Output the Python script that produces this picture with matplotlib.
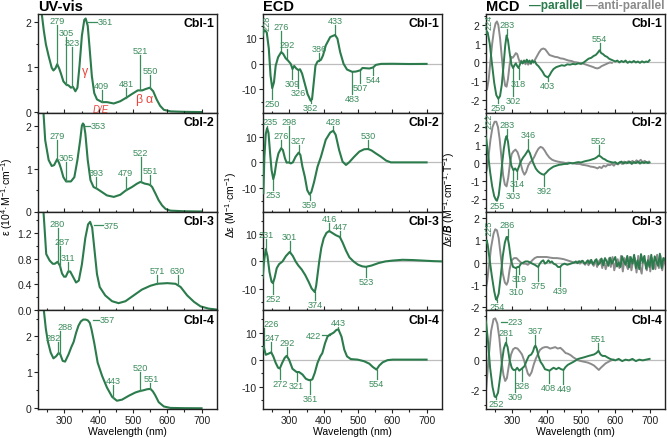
import numpy as np
import matplotlib
matplotlib.use('Agg')
import matplotlib.pyplot as plt
from matplotlib.ticker import MultipleLocator

plt.rcParams['font.family'] = ['Liberation Sans', 'DejaVu Sans']
plt.rcParams['axes.unicode_minus'] = False
plt.rcParams['mathtext.fontset'] = 'custom'
plt.rcParams['mathtext.rm'] = 'Liberation Sans'
plt.rcParams['mathtext.it'] = 'Liberation Sans:italic'
plt.rcParams['mathtext.bf'] = 'Liberation Sans:bold'
plt.rcParams['mathtext.bfit'] = 'Liberation Sans:italic:bold'

GREEN = '#2b7b4c'
LABEL = '#3b8c5c'
GRAY = '#8b8b8b'
RED = '#e8453c'

# ---------------- UV-vis (10^4 M-1 cm-1) ----------------
uv1_wl = [230, 234, 240, 246, 254, 263, 268, 274, 279, 285, 290, 297, 305, 312, 319, 325, 332, 338, 344,
          351, 358, 362, 368, 373, 380, 387, 395, 410, 424, 444, 463, 483, 497, 514, 527, 537, 549, 559,
          569, 579, 590, 610, 650, 700]
uv1_eps = [2.6, 2.17, 1.8, 1.5, 1.24, 0.98, 0.92, 0.97, 1.06, 0.96, 0.85, 0.68, 0.61, 0.59, 0.54, 0.56, 0.46,
           0.54, 1.02, 1.69, 2.04, 2.07, 1.91, 1.46, 0.80, 0.42, 0.28, 0.22, 0.22, 0.19, 0.24, 0.33, 0.40,
           0.48, 0.48, 0.51, 0.54, 0.46, 0.28, 0.14, 0.05, 0.015, 0.005, 0.0]

uv2_wl = [235, 239, 244, 254, 263, 270, 279, 285, 290, 297, 305, 312, 319, 329, 338, 346, 351, 354, 357,
          361, 368, 376, 385, 395, 410, 424, 444, 463, 479, 497, 512, 522, 534, 546, 551, 556, 566, 575,
          585, 595, 609, 650, 700]
uv2_eps = [2.9, 2.3, 1.66, 1.2, 1.06, 1.08, 1.22, 1.12, 1.0, 0.80, 0.70, 0.70, 0.70, 0.80, 1.20, 1.66, 2.0,
           2.05, 2.02, 1.82, 1.2, 0.73, 0.57, 0.53, 0.45, 0.375, 0.34, 0.39, 0.49, 0.57, 0.65, 0.69, 0.65,
           0.63, 0.61, 0.57, 0.41, 0.26, 0.14, 0.06, 0.02, 0.005, 0.0]

uv3_wl = [236, 239, 247, 257, 266, 272, 280, 287, 293, 299, 304, 311, 317, 325, 334, 342, 351, 361, 369,
          375, 381, 388, 395, 403, 419, 439, 458, 478, 502, 526, 551, 571, 600, 624, 639, 658, 678, 697,
          721, 745]
uv3_eps = [2.0, 1.53, 0.87, 0.77, 0.72, 0.72, 0.75, 0.69, 0.57, 0.52, 0.52, 0.60, 0.60, 0.52, 0.43, 0.46,
           0.71, 1.12, 1.33, 1.37, 1.28, 0.92, 0.56, 0.36, 0.23, 0.14, 0.11, 0.14, 0.23, 0.32, 0.38, 0.41,
           0.42, 0.41, 0.36, 0.23, 0.13, 0.06, 0.025, 0.01]

uv4_wl = [236, 240, 246, 252, 260, 268, 276, 283, 288, 295, 302, 312, 320, 327, 334, 341, 348, 355, 362,
          368, 374, 379, 387, 397, 410, 424, 439, 453, 468, 488, 507, 520, 530, 541, 551, 558, 565, 575,
          590, 609, 650, 700]
uv4_eps = [3.0, 2.73, 2.2, 1.85, 1.55, 1.39, 1.45, 1.54, 1.5, 1.32, 1.30, 1.5, 1.7, 1.85, 2.1, 2.3, 2.42,
           2.47, 2.47, 2.45, 2.38, 2.2, 1.82, 1.27, 0.9, 0.58, 0.32, 0.21, 0.24, 0.35, 0.44, 0.48, 0.5,
           0.53, 0.54, 0.47, 0.36, 0.17, 0.05, 0.01, 0.003, 0.0]

# ---------------- ECD (M-1 cm-1) ----------------
ecd1_wl = [222, 225, 228, 234, 240, 245, 250, 255, 260, 267, 276, 282, 289, 296, 304, 309, 314, 320, 326,
           331, 337, 345, 353, 362, 366, 370, 376, 382, 386, 392, 398, 406, 419, 433, 440, 448, 458, 468,
           483, 494, 507, 513, 523, 533, 544, 552, 567, 600, 650, 700]
ecd1_de = [11.0, 12.8, 13.2, 12.3, 5.9, -4.6, -9.5, -7.2, -0.7, 2.6, 4.6, 3.9, 2.2, 1.3, 0.0, -2.0, -0.8,
           -1.8, -2.4, -2.1, -3.8, -7.8, -11.8, -14.4, -13.8, -8.6, -0.7, 0.9, 1.2, 1.6, 3.3, 7.2, 10.5,
           11.3, 9.9, 4.6, 0.0, -2.2, -3.1, -3.0, -2.5, -1.6, -1.7, -1.8, -1.4, -0.4, 0.0, 0.05, -0.05, 0.0]

ecd2_wl = [224, 227, 231, 235, 239, 244, 248, 253, 257, 262, 268, 276, 281, 287, 292, 298, 304, 310, 318,
           327, 332, 338, 345, 352, 359, 364, 372, 382, 392, 406, 419, 428, 435, 445, 455, 465, 474, 489,
           504, 518, 530, 540, 552, 567, 582, 596, 650, 700]
ecd2_de = [-12.0, 2.0, 11.0, 13.3, 11.5, 3.0, -3.0, -6.5, -4.5, 0.0, 3.5, 5.5, 4.8, 1.6, -0.1, 0.0, -0.4,
           0.0, 2.2, 3.8, 2.9, -1.7, -5.6, -10.8, -12.5, -11.5, -7.6, -1.7, 2.2, 8.8, 11.6, 12.3, 10.7,
           4.8, 0.3, -1.0, 0.0, 2.2, 4.2, 5.1, 5.2, 4.6, 3.5, 2.2, 0.7, 0.0, 0.0, 0.0]

ecd3_wl = [222, 226, 231, 236, 242, 248, 252, 257, 263, 270, 280, 290, 301, 310, 318, 326, 336, 346, 356,
           365, 374, 378, 382, 387, 393, 400, 408, 416, 425, 435, 447, 455, 465, 475, 487, 500, 512, 523,
           540, 560, 580, 600, 630, 660, 690, 720, 745]
ecd3_de = [-6.0, 0.0, 4.5, 2.0, -4.0, -7.5, -8.0, -6.0, -2.5, -1.0, 0.0, 2.0, 3.5, 2.0, 0.0, -1.5, -3.0,
           -5.0, -7.5, -10.0, -11.3, -9.0, -5.0, 0.0, 5.0, 8.5, 10.5, 11.2, 10.5, 9.7, 9.0, 7.0, 4.0, 1.5,
           0.0, -1.2, -1.8, -2.0, -1.5, -0.6, 0.0, 0.3, 0.6, 0.5, 0.3, 0.1, 0.0]

ecd4_wl = [222, 226, 231, 239, 247, 253, 260, 267, 272, 279, 286, 292, 299, 309, 321, 328, 338, 348, 357,
           361, 367, 374, 382, 390, 396, 404, 411, 418, 422, 429, 437, 443, 452, 460, 468, 479, 499, 518,
           533, 543, 554, 562, 572, 586, 601, 650, 700]
ecd4_de = [4.9, 4.3, 1.8, 2.2, 2.7, 1.2, -1.2, -3.0, -3.3, -1.2, 0.6, 1.4, 0.0, -3.4, -4.6, -4.6, -5.5,
           -7.1, -7.6, -7.6, -7.3, -4.9, -1.2, 1.2, 2.4, 6.1, 8.5, 9.3, 9.5, 10.0, 11.0, 11.2, 8.5, 3.7,
           1.2, 0.2, 0.0, -0.6, -1.5, -2.7, -3.7, -2.2, -1.0, -0.2, 0.0, 0.0, 0.0]

# ---------------- MCD (M-1 cm-1 T-1), parallel / anti-parallel ----------------
mcd1_wl = [222, 224, 228, 234, 240, 247, 253, 259, 264, 269, 274, 279, 283, 287, 292, 297, 302, 306, 310,
           314, 318, 322, 326, 330, 334, 338, 342, 346, 350, 354, 358, 362, 366, 370, 376, 382, 388, 394,
           398, 403, 408, 414, 420, 428, 436, 444, 452, 460, 468, 476, 484, 492, 500, 508, 515, 522, 530,
           537, 543, 548, 554, 559, 564, 570, 576, 582, 588, 594, 600, 606, 612, 618, 624, 630, 636, 642,
           648, 654, 660, 666, 672, 678, 684, 690, 695, 700]
mcd1_par = [1.5, 1.7, 1.6, 1.0, 0.0, -1.1, -1.75, -1.95, -1.8, -1.2, -0.2, 0.9, 1.45, 1.2, 0.5, -0.1,
            -0.3, -0.15, -0.05, -0.2, -0.3, -0.1, 0.05, -0.05, 0.1, 0.0, 0.15, 0.0, 0.1, -0.05, 0.12, 0.0,
            0.05, -0.1, -0.2, -0.35, -0.5, -0.7, -0.75, -0.8, -0.7, -0.5, -0.35, -0.25, -0.2, -0.15, -0.18,
            -0.1, -0.12, -0.08, -0.1, -0.05, -0.08, 0.0, 0.1, 0.2, 0.25, 0.35, 0.4, 0.5, 0.65, 0.5, 0.45,
            0.35, 0.3, 0.2, 0.15, 0.1, 0.05, 0.1, 0.0, 0.08, 0.02, 0.1, -0.02, 0.05, 0.0, 0.08, 0.0, 0.05,
            -0.02, 0.06, 0.0, 0.05, 0.02, 0.12]
mcd1_awl = [222, 226, 231, 236, 241, 246, 251, 255, 259, 264, 269, 274, 279, 283, 287, 292, 297, 301, 305,
            310, 314, 318, 322, 326, 330, 334, 338, 342, 346, 350, 354, 358, 362, 366, 372, 378, 384, 390,
            396, 402, 408, 416, 424, 432, 440, 448, 456, 464, 472, 480, 488, 496, 504, 512, 520, 528, 536,
            542, 548, 554, 560, 566, 572, 578, 584, 590]
mcd1_anti = [-1.5, -1.45, -0.9, 0.1, 1.0, 1.7, 2.1, 2.2, 2.0, 1.3, 0.3, -0.7, -1.25, -1.3, -0.9, -0.1,
             0.3, 0.25, 0.35, 0.5, 0.45, 0.2, 0.0, 0.1, -0.05, 0.1, -0.1, 0.05, -0.12, 0.0, -0.08, 0.05,
             0.0, 0.15, 0.35, 0.55, 0.7, 0.75, 0.7, 0.55, 0.4, 0.35, 0.3, 0.28, 0.22, 0.2, 0.15, 0.1, 0.08,
             0.02, 0.0, -0.03, -0.05, -0.1, -0.15, -0.2, -0.25, -0.3, -0.32, -0.28, -0.2, -0.15, -0.1,
             -0.05, 0.0, -0.02]

mcd2_wl = [221, 224, 229, 235, 241, 247, 252, 255, 260, 265, 270, 275, 280, 283, 287, 292, 297, 303, 308,
           314, 319, 325, 331, 337, 342, 346, 351, 356, 362, 368, 374, 380, 386, 392, 398, 405, 412, 420,
           428, 436, 444, 452, 460, 468, 476, 484, 492, 500, 508, 516, 524, 532, 540, 546, 552, 558, 564,
           570, 576, 582, 588, 594, 600, 606, 612, 618, 624, 630, 636, 642, 648, 654, 660, 666, 672, 678,
           684, 690, 695, 700]
mcd2_par = [1.6, 1.3, 0.5, -0.5, -1.3, -1.85, -2.05, -2.1, -1.8, -1.0, -0.05, 0.8, 1.35, 1.5, 1.2, 0.4,
            -0.15, -0.4, -0.3, -0.45, -0.2, 0.1, 0.3, 0.45, 0.6, 0.72, 0.55, 0.25, -0.05, -0.3, -0.45,
            -0.55, -0.62, -0.65, -0.55, -0.4, -0.3, -0.2, -0.15, -0.1, -0.08, -0.05, -0.05, 0.0, -0.02,
            0.02, 0.05, 0.03, 0.08, 0.12, 0.15, 0.2, 0.25, 0.32, 0.42, 0.35, 0.25, 0.2, 0.12, 0.08, 0.05,
            0.02, 0.05, -0.05, 0.03, 0.08, -0.03, 0.05, 0.0, 0.08, -0.05, 0.05, 0.0, 0.08, -0.03, 0.05,
            0.0, 0.06, 0.0, 0.03]
mcd2_awl = [221, 225, 230, 236, 242, 248, 253, 258, 263, 268, 273, 278, 283, 288, 293, 298, 303, 309, 315,
            320, 325, 330, 335, 340, 346, 352, 358, 364, 370, 376, 382, 388, 394, 400, 408, 416, 424, 432,
            440, 448, 456, 464, 472, 480, 488, 496, 504, 512, 520, 528, 536, 542, 548, 554, 560, 566, 572,
            578, 584, 590, 596, 602, 608, 614, 620, 626, 632, 638, 644, 650, 656, 662, 668, 674, 680, 686,
            692, 698]
mcd2_anti = [-0.6, -0.4, 0.3, 1.3, 2.0, 2.3, 2.3, 2.0, 1.3, 0.3, -0.7, -1.2, -1.3, -0.8, 0.0, 0.5, 0.65,
             0.75, 0.6, 0.3, -0.1, -0.45, -0.65, -0.5, -0.15, 0.05, 0.15, 0.35, 0.6, 0.8, 0.9, 0.85, 0.7,
             0.5, 0.3, 0.18, 0.12, 0.08, 0.05, 0.03, 0.0, 0.02, 0.0, -0.02, -0.05, -0.05, -0.1, -0.12,
             -0.15, -0.2, -0.22, -0.25, -0.3, -0.22, -0.28, -0.15, -0.2, -0.1, -0.12, -0.05, -0.15, 0.0,
             -0.08, 0.05, -0.05, 0.08, -0.02, 0.1, 0.0, 0.12, 0.02, 0.15, 0.05, 0.18, 0.05, 0.12, 0.02, 0.08]

mcd3_wl = [222, 225, 228, 233, 240, 247, 252, 254, 260, 266, 272, 278, 283, 286, 290, 296, 302, 306, 310,
           315, 319, 325, 332, 338, 345, 352, 358, 365, 370, 375, 380, 385, 390, 395, 400, 405, 410, 415,
           420, 427, 433, 439, 445, 452, 460, 470, 480, 485, 490, 495, 500, 505, 510, 515, 520, 525, 530,
           535, 540, 545, 550, 555, 560, 565, 570, 575, 580, 585, 590, 595, 600, 605, 610, 615, 620, 625,
           630, 635, 640, 645, 650, 655, 660, 665, 670, 675, 680, 685, 690, 695, 700, 705, 710, 715, 720,
           725, 730, 735, 740, 745]
mcd3_par = [0.9, 1.0, 0.8, 0.2, -0.6, -1.3, -1.65, -1.68, -1.4, -0.6, 0.3, 0.9, 1.15, 1.15, 0.8, 0.1,
            -0.2, -0.22, -0.25, -0.2, -0.2, -0.05, 0.0, 0.05, 0.05, 0.0, -0.05, -0.1, -0.15, -0.2, -0.05,
            0.05, 0.1, -0.05, 0.0, 0.1, 0.0, 0.05, -0.05, -0.1, -0.2, -0.2, -0.1, -0.05, -0.1, -0.05, 0.0,
            0.05, -0.03, 0.06, 0.02, 0.08, -0.05, 0.0, 0.1, -0.04, 0.12, -0.08, 0.05, 0.15, -0.1, -0.02,
            0.18, -0.12, 0.2, 0.05, -0.15, 0.22, -0.05, 0.1, 0.25, -0.18, 0.0, -0.2, 0.28, 0.05, -0.1, 0.3,
            -0.22, 0.25, -0.05, 0.35, -0.25, 0.1, -0.3, 0.38, 0.0, 0.3, -0.28, 0.1, -0.2, 0.35, -0.3, 0.28,
            0.05, -0.15, 0.4, -0.25, 0.2, 0.1]
mcd3_awl = [222, 226, 232, 238, 245, 250, 255, 260, 266, 272, 278, 283, 287, 292, 298, 305, 312, 318, 325,
            332, 338, 345, 352, 358, 365, 372, 380, 390, 400, 410, 420, 430, 440, 450, 460, 470, 480, 487,
            492, 497, 502, 507, 512, 517, 522, 527, 532, 537, 542, 547, 552, 557, 562, 567, 572, 577, 582,
            587, 592, 597, 602, 607, 612, 617, 622, 627, 632, 637, 642, 647, 652, 657, 662, 667, 672, 677,
            682, 687, 692, 697, 702, 707, 712, 717, 722, 727, 732, 737, 742, 747]
mcd3_anti = [-1.2, -0.9, -0.1, 0.7, 1.3, 1.5, 1.45, 1.1, 0.3, -0.5, -0.9, -1.0, -0.85, -0.3, 0.1, 0.2,
             0.2, 0.1, 0.0, -0.05, -0.05, -0.1, 0.0, 0.1, 0.2, 0.25, 0.25, 0.25, 0.25, 0.22, 0.2, 0.2,
             0.18, 0.15, 0.1, 0.05, 0.0, 0.0, 0.05, -0.05, 0.08, 0.02, -0.1, 0.05, -0.12, 0.1, -0.02,
             -0.15, 0.12, -0.2, 0.05, 0.15, -0.25, 0.1, -0.3, -0.05, 0.2, -0.2, 0.25, -0.35, 0.0, 0.15,
             -0.25, 0.3, -0.4, 0.2, -0.1, -0.3, 0.25, -0.35, 0.05, 0.2, -0.45, 0.3, -0.2, -0.5, 0.25, 0.0,
             -0.35, 0.3, -0.4, 0.2, -0.05, -0.3, 0.35, -0.25, 0.3, -0.35, 0.2, -0.15]

mcd4_wl = [221, 223, 228, 235, 242, 248, 252, 258, 265, 270, 275, 281, 286, 292, 298, 303, 309, 314, 320,
           328, 335, 342, 348, 355, 360, 364, 367, 371, 376, 382, 388, 395, 402, 408, 414, 420, 428, 435,
           442, 449, 455, 462, 470, 478, 485, 492, 500, 508, 515, 522, 530, 538, 545, 551, 557, 563, 570,
           577, 585, 592, 600, 610, 620, 630, 640, 650, 660, 670, 680, 690, 700]
mcd4_par = [2.8, 2.6, 1.5, -0.5, -1.8, -2.45, -2.5, -2.2, -1.0, 0.0, 0.8, 1.2, 0.9, 0.0, -0.5, -0.65,
            -0.65, -0.5, -0.7, -0.55, -0.4, 0.0, 0.3, 0.4, 0.6, 0.9, 1.0, 0.8, 0.3, -0.1, -0.3, -0.6,
            -0.65, -0.7, -0.6, -0.5, -0.6, -0.5, -0.6, -0.65, -0.45, -0.3, -0.2, -0.1, 0.0, 0.1, 0.15,
            0.2, 0.25, 0.3, 0.35, 0.4, 0.5, 0.65, 0.4, 0.3, 0.3, 0.2, 0.1, 0.05, 0.0, 0.1, -0.05, 0.05,
            0.0, 0.1, -0.05, 0.05, 0.0, 0.05, 0.1]
mcd4_awl = [221, 225, 232, 238, 245, 250, 256, 262, 268, 274, 279, 284, 290, 296, 302, 308, 315, 322, 328,
            334, 340, 345, 350, 356, 362, 368, 374, 380, 388, 395, 402, 410, 418, 425, 432, 440, 447, 455,
            462, 470, 478, 485, 492, 500, 510, 520, 530, 538, 545, 552, 558, 565, 572, 580, 588, 595]
mcd4_anti = [-2.7, -1.5, 0.5, 2.0, 2.8, 2.85, 2.5, 1.5, 0.0, -1.0, -1.4, -1.2, -0.3, 0.4, 0.75, 0.85,
             0.8, 0.6, 0.4, 0.0, -0.5, -0.9, -1.05, -0.8, -0.3, 0.1, 0.4, 0.7, 0.85, 0.9, 0.9, 0.8, 0.85,
             0.9, 0.8, 0.85, 0.7, 0.5, 0.45, 0.35, 0.2, 0.1, 0.0, -0.05, -0.1, -0.15, -0.25, -0.35, -0.5,
             -0.65, -0.5, -0.35, -0.2, -0.1, 0.0, 0.05]

# ---------------- peak labels: (text, x of line, x of text, y of text, kind) ----------------
uv_labels = [
    [('279', 279, 279, 1.93, 'u'), ('305', 305, 305, 1.67, 'u'), ('323', 323, 323, 1.43, 'u'),
     ('361', 369, 397, 2.0, 'r'), ('409', 409, 409, 0.48, 'u'), ('481', 481, 481, 0.54, 'u'),
     ('521', 521, 521, 1.26, 'u'), ('550', 550, 550, 0.81, 'u')],
    [('279', 279, 279, 1.66, 'u'), ('305', 305, 305, 1.16, 'u'), ('353', 361, 376, 2.0, 'r'),
     ('393', 393, 393, 0.8, 'u'), ('479', 479, 479, 0.8, 'u'), ('522', 522, 522, 1.27, 'u'),
     ('551', 551, 551, 0.84, 'u')],
    [('280', 280, 280, 1.27, 'u'), ('287', 287, 292, 1.0, 'u'), ('311', 311, 311, 0.74, 'u'),
     ('375', 386, 415, 1.32, 'r'), ('571', 571, 571, 0.55, 'u'), ('630', 630, 630, 0.55, 'u')],
    [('282', 282, 266, 1.84, 'u'), ('288', 288, 302, 2.14, 'u'), ('357', 383, 404, 2.46, 'r'),
     ('443', 443, 443, 0.64, 'u'), ('520', 520, 520, 1.0, 'u'), ('551', 551, 553, 0.7, 'u')],
]
ecd_labels = [
    [('228', 228, 236, 19.3, 'v'), ('250', 250, 250, -13.8, 'd'), ('276', 276, 276, 12.8, 'u'),
     ('292', 292, 292, 5.9, 'u'), ('309', 309, 309, -5.9, 'd'), ('326', 326, 326, -9.6, 'd'),
     ('362', 362, 362, -15.1, 'd'), ('386', 386, 386, 4.3, 'u'), ('433', 433, 433, 15.1, 'u'),
     ('483', 483, 483, -11.8, 'd'), ('507', 507, 507, -7.5, 'd'), ('544', 544, 544, -4.3, 'd')],
    [('235', 235, 243, 14.0, 'u'), ('253', 253, 253, -10.8, 'd'), ('276', 276, 276, 8.8, 'u'),
     ('298', 298, 298, 14.0, 'u'), ('327', 327, 327, 6.8, 'u'), ('359', 359, 359, -14.5, 'd'),
     ('428', 428, 428, 14.2, 'u'), ('530', 530, 530, 8.8, 'u')],
    [('231', 231, 233, 8.1, 'u'), ('252', 252, 252, -11.9, 'd'), ('301', 301, 301, 7.5, 'u'),
     ('374', 374, 374, -14.1, 'd'), ('416', 416, 416, 14.2, 'u'), ('447', 447, 449, 11.2, 'u'),
     ('523', 523, 523, -5.6, 'd')],
    [('226', 226, 246, 11.8, 'u'), ('247', 247, 249, 6.5, 'u'), ('292', 292, 292, 4.6, 'u'),
     ('272', 272, 272, -7.1, 'd'), ('321', 321, 321, -7.9, 'd'), ('361', 361, 361, -12.6, 'd'),
     ('422', 418, 392, 9.1, 'l'), ('443', 443, 443, 12.0, 'u'), ('554', 554, 554, -7.3, 'd')],
]
mcd_labels = [
    [('224', 224, 233, 2.6, 'v'), ('259', 259, 259, -2.16, 'd'), ('283', 283, 283, 1.77, 'u'),
     ('302', 302, 302, -1.8, 'd'), ('318', 318, 318, -0.9, 'd'), ('403', 403, 403, -1.0, 'd'),
     ('554', 554, 554, 1.05, 'u')],
    [('222', 222, 232, 2.8, 'v'), ('255', 255, 255, -2.14, 'd'), ('283', 283, 283, 1.9, 'u'),
     ('303', 303, 303, -1.54, 'd'), ('314', 314, 314, -0.88, 'd'), ('346', 346, 346, 1.33, 'u'),
     ('392', 392, 392, -1.26, 'd'), ('552', 552, 552, 1.0, 'u')],
    [('225', 225, 233, 1.93, 'v'), ('254', 254, 254, -1.78, 'd'), ('286', 286, 286, 1.51, 'u'),
     ('310', 310, 310, -1.11, 'd'), ('319', 319, 319, -0.52, 'd'), ('375', 375, 375, -0.81, 'd'),
     ('439', 439, 439, -1.07, 'd')],
    [('223', 268, 286, 2.63, 'r'), ('252', 252, 252, -2.65, 'd'), ('281', 281, 281, 1.57, 'u'),
     ('309', 309, 309, -2.12, 'd'), ('328', 328, 328, -1.42, 'd'), ('367', 367, 367, 1.73, 'u'),
     ('408', 408, 406, -1.53, 'd'), ('449', 449, 452, -1.57, 'd'), ('551', 551, 551, 1.17, 'u')],
]

names = ['Cbl-1', 'Cbl-2', 'Cbl-3', 'Cbl-4']
uv_data = [(uv1_wl, uv1_eps), (uv2_wl, uv2_eps), (uv3_wl, uv3_eps), (uv4_wl, uv4_eps)]
ecd_data = [(ecd1_wl, ecd1_de), (ecd2_wl, ecd2_de), (ecd3_wl, ecd3_de), (ecd4_wl, ecd4_de)]
mcd_data = [(mcd1_wl, mcd1_par, mcd1_awl, mcd1_anti), (mcd2_wl, mcd2_par, mcd2_awl, mcd2_anti),
            (mcd3_wl, mcd3_par, mcd3_awl, mcd3_anti), (mcd4_wl, mcd4_par, mcd4_awl, mcd4_anti)]

uv_ylim = [(-0.015, 2.17), (0, 2.3), (0, 1.53), (-0.02, 2.73)]
ecd_ylim = [(-19.1, 19.5), (-19.1, 19.3), (-18.0, 18.4), (-18.3, 18.3)]
mcd_ylim = [(-2.7, 2.6), (-2.7, 2.8), (-2.15, 2.3), (-3.3, 3.4)]


def put_labels(ax, labels, wl, val):
    for txt, x, tx, ty, kind in labels:
        y0 = np.interp(x, wl, val)
        kw = dict(color=LABEL, fontsize=6.6, zorder=5)
        if kind == 'u':
            ax.plot([x, x], [y0, ty], color=LABEL, lw=0.9)
            ax.text(tx, ty, txt, ha='center', va='bottom', **kw)
        elif kind == 'd':
            ax.plot([x, x], [y0, ty], color=LABEL, lw=0.9)
            ax.text(tx, ty, txt, ha='center', va='top', **kw)
        elif kind == 'r':
            ax.plot([x, tx - 2], [ty, ty], color=LABEL, lw=0.9)
            ax.text(tx, ty, txt, ha='left', va='center', **kw)
        elif kind == 'l':
            ax.plot([x, tx + 2], [ty, ty], color=LABEL, lw=0.9)
            ax.text(tx, ty, txt, ha='right', va='center', **kw)
        else:
            ax.text(tx, ty, txt, ha='center', va='top', rotation=90, clip_on=False, **kw)


def style(ax, row, ylim, major, minor):
    ax.set_xlim(223, 745)
    ax.set_ylim(*ylim)
    ax.xaxis.set_major_locator(MultipleLocator(100))
    ax.xaxis.set_minor_locator(MultipleLocator(50))
    ax.yaxis.set_major_locator(MultipleLocator(major))
    ax.yaxis.set_minor_locator(MultipleLocator(minor))
    ax.tick_params(which='both', direction='out', labelsize=7.5, width=0.8, colors='#222222',
                   top=(row > 0), bottom=(row == 3), labelbottom=(row == 3), pad=1.5)
    ax.tick_params(which='major', length=3)
    ax.tick_params(which='minor', length=1.8)
    for s in ax.spines.values():
        s.set_linewidth(1.0)
        s.set_color('#222222')
    ax.text(0.985, 0.965, names[row], transform=ax.transAxes, ha='right', va='top',
            fontsize=8.8, fontweight='bold')


fig = plt.figure(figsize=(6.67, 4.39), dpi=100)
lefts = [38, 263, 486]
row_h = 98.75


def make_ax(col, row):
    return fig.add_axes([lefts[col] / 667, (439 - 15 - (row + 1) * row_h) / 439, 179 / 667, row_h / 439])


for r in range(4):
    # UV-vis
    ax = make_ax(0, r)
    wl, v = uv_data[r]
    ax.plot(wl, v, color=GREEN, lw=1.5)
    style(ax, r, uv_ylim[r], 0.4 if r == 2 else 1, 0.2 if r == 2 else 0.5)
    put_labels(ax, uv_labels[r], wl, v)
    if r == 0:
        ax.text(360, 0.9, 'γ', color=RED, fontsize=9, ha='center', va='center')
        ax.text(407, 0.07, 'D/E', color=RED, fontsize=7, style='italic', ha='center', va='center')
        ax.text(517, 0.28, 'β', color=RED, fontsize=9, ha='center', va='center')
        ax.text(546, 0.28, 'α', color=RED, fontsize=9, ha='center', va='center')

    # ECD
    ax = make_ax(1, r)
    wl, v = ecd_data[r]
    ax.axhline(0, color='#bdbdbd', lw=0.9, zorder=1)
    ax.plot(wl, v, color=GREEN, lw=1.5, zorder=3)
    style(ax, r, ecd_ylim[r], 10, 5)
    put_labels(ax, ecd_labels[r], wl, v)

    # MCD
    ax = make_ax(2, r)
    wl, v, awl, av = mcd_data[r]
    ax.axhline(0, color='#bdbdbd', lw=0.9, zorder=1)
    ax.plot(awl, av, color=GRAY, lw=1.4, zorder=2)
    ax.plot(wl, v, color=GREEN, lw=1.4, zorder=3)
    style(ax, r, mcd_ylim[r], 2 if r == 3 else 1, 1 if r == 3 else 0.5)
    put_labels(ax, mcd_labels[r], wl, v)

# column titles and legend
for x, t in zip(lefts, ['UV-vis', 'ECD', 'MCD']):
    fig.text(x / 667, 1.0, t, fontsize=10.5, fontweight='bold', ha='left', va='top')
fig.text(529 / 667, 1 - 6 / 439, '—parallel', color=GREEN, fontsize=8.5, fontweight='bold',
         ha='left', va='center')
fig.text(586 / 667, 1 - 6 / 439, '—anti-parallel', color=GRAY, fontsize=8.5, fontweight='bold',
         ha='left', va='center')

# axis titles
fig.text(7 / 667, 1 - 197 / 439, 'ε (10$^{4}$·M$^{-1}$·cm$^{-1}$)', rotation=90, fontsize=7.5,
         ha='center', va='center')
fig.text(231 / 667, 1 - 205 / 439, 'Δε (M$^{-1}$·cm$^{-1}$)', rotation=90, fontsize=7.5,
         ha='center', va='center')
fig.text(449 / 667, 1 - 200 / 439, 'Δε/$\\mathbfit{B}$ (M$^{-1}$·cm$^{-1}$·T$^{-1}$)', rotation=90,
         fontsize=7.5, ha='center', va='center')
for x in lefts:
    fig.text((x + 89.5) / 667, 1 - 432 / 439, 'Wavelength (nm)', fontsize=7.5, ha='center', va='center')

fig.savefig('out.png', dpi=100)
